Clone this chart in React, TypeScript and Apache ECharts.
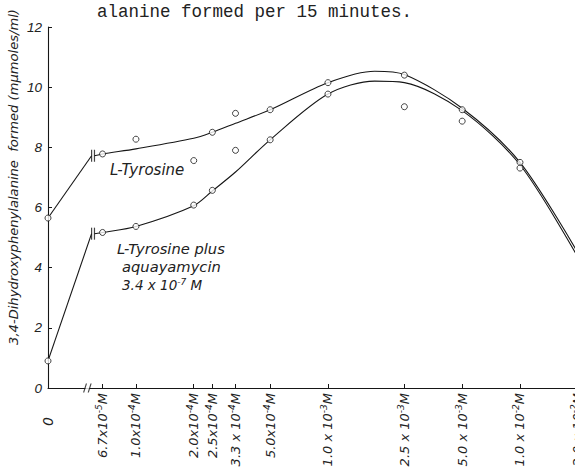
import React, { useEffect, useRef } from "react";
import * as echarts from "echarts";

// ---- data ----
// concentrations (M); 0 is drawn at the origin of the broken log axis
const concentrations = [0, 6.7e-5, 1.0e-4, 2.0e-4, 2.5e-4, 3.3e-4, 5.0e-4, 1.0e-3, 2.5e-3, 5.0e-3, 1.0e-2];
const tyrosine = [5.65, 7.78, 8.27, 7.56, 8.5, 9.13, 9.25, 10.15, 10.4, 9.25, 7.5];
const tyrosineAqua = [0.9, 5.17, 5.37, 6.08, 6.57, 7.9, 8.25, 9.77, 9.35, 8.87, 7.31];

// hand-drawn fitted curves
const fitConc = [6.7e-5, 1.0e-4, 2.0e-4, 2.5e-4, 3.3e-4, 5.0e-4, 1.0e-3, 1.75e-3, 2.5e-3, 5.0e-3, 1.0e-2, 2.0e-2];
const fitTyrosine = [7.78, 7.95, 8.3, 8.5, 8.8, 9.25, 10.15, 10.53, 10.42, 9.3, 7.5, 4.5];
const fitTyrosineAqua = [5.17, 5.37, 6.06, 6.55, 7.18, 8.25, 9.77, 10.2, 10.15, 9.22, 7.42, 4.35];

// values at the "||" break marks on each curve
const breakTyrosine = 7.72;
const breakTyrosineAqua = 5.13;

// x tick labels
const tickConc = [6.7e-5, 1.0e-4, 2.0e-4, 2.5e-4, 3.3e-4, 5.0e-4, 1.0e-3, 2.5e-3, 5.0e-3, 1.0e-2, 2.0e-2];
const tickMantissa = ["6.7x10", "1.0x10", "2.0x10", "2.5x10", "3.3 x 10", "5.0x10", "1.0 x 10", "2.5 x 10", "5.0 x 10", "1.0 x 10", "2.0 x 10"];
const tickExponent = ["-5", "-4", "-4", "-4", "-4", "-4", "-3", "-3", "-3", "-2", "-2"];
const yTicks = [0, 2, 4, 6, 8, 10, 12];

// ---- axis geometry (log10 scale with a break near the origin) ----
const X_MIN = -4.458;
const X_MAX = -1.651;
const XB1 = -4.231; // first bar of the break
const XB2 = -4.216; // second bar of the break
const AXB1 = -4.265; // axis break slashes
const AXB2 = -4.241;

const lx = (c: number) => (c === 0 ? X_MIN : Math.log10(c));

const FONT = '"Liberation Sans", Arial, sans-serif';
const LETTER = '"DejaVu Sans", sans-serif';
const INK = "#161616";

export default function App() {
  const ref = useRef<HTMLDivElement>(null);
  useEffect(() => {
    document.body.style.margin = "0";
    document.body.style.overflow = "hidden";
    if (!ref.current) return;
    const chart = echarts.init(ref.current, undefined, { renderer: "svg" });
    const tickValues = [X_MIN, ...tickConc.map(lx)];

    const pts = (vals: number[]) => concentrations.map((c, i) => [lx(c), vals[i]]);
    const fit = (start: number, vals: number[]) => [[XB2, start], ...fitConc.map((c, i) => [lx(c), vals[i]])];

    const lineStyle = { color: INK, width: 1.1 };

    const option: any = {
      animation: false,
      backgroundColor: "#ffffff",
      grid: { left: 48, right: 0, top: 27, bottom: 86 },
      xAxis: {
        type: "value",
        min: X_MIN,
        max: X_MAX,
        axisLine: { show: true, lineStyle: { color: INK, width: 1.1 } },
        splitLine: { show: false },
        axisTick: {
          show: true,
          inside: true,
          length: 4,
          customValues: tickConc.map(lx),
          lineStyle: { color: INK },
        },
        axisLabel: {
          show: true,
          rotate: 90,
          margin: 5,
          hideOverlap: false,
          customValues: tickValues,
          color: "#222",
          formatter: (v: number) => {
            if (Math.abs(v - X_MIN) < 1e-6) return "{z|0}";
            const i = tickConc.findIndex((c) => Math.abs(lx(c) - v) < 1e-6);
            if (i < 0) return "";
            return `{n|${tickMantissa[i]}}{s|${tickExponent[i]}}{n|M}`;
          },
          rich: {
            n: { fontSize: 13, fontStyle: "italic", fontFamily: LETTER, color: "#222" },
            s: { fontSize: 9, fontStyle: "italic", fontFamily: LETTER, color: "#222", verticalAlign: "top", padding: [0, 0, 7, 0] },
            z: { fontSize: 14, fontStyle: "italic", fontFamily: LETTER, color: "#222", padding: [0, 24, 0, 0] },
          },
        },
      },
      yAxis: {
        type: "value",
        min: 0,
        max: 12,
        interval: 2,
        axisLine: { show: true, lineStyle: { color: INK, width: 1.1 } },
        splitLine: { show: false },
        axisTick: { show: true, inside: true, length: 4, lineStyle: { color: INK } },
        axisLabel: {
          margin: 6,
          fontSize: 13.5,
          fontStyle: "italic",
          fontFamily: FONT,
          color: "#222",
          formatter: (v: number) => (yTicks.includes(v) ? String(v) : ""),
        },
      },
      graphic: [
        {
          type: "text",
          x: 97,
          y: 12,
          style: {
            text: "alanine formed per 15 minutes.",
            fontSize: 17.5,
            fontFamily: '"Liberation Mono", "DejaVu Sans Mono", monospace',
            fill: "#222",
            align: "left",
            verticalAlign: "middle",
          },
        },
        {
          type: "text",
          x: 13,
          y: 177,
          rotation: Math.PI / 2,
          style: {
            text: "3,4-Dihydroxyphenylalanine  formed (mμmoles/ml)",
            fontSize: 13.1,
            fontStyle: "italic",
            fontFamily: LETTER,
            fill: "#222",
            align: "center",
            verticalAlign: "middle",
          },
        },
        {
          type: "text",
          x: 110,
          y: 170,
          style: { text: "L-Tyrosine", fontSize: 15, fontStyle: "italic", fontFamily: LETTER, fill: "#222", align: "left", verticalAlign: "middle" },
        },
        {
          type: "text",
          x: 117,
          y: 248,
          style: { text: "L-Tyrosine plus", fontSize: 14.7, fontStyle: "italic", fontFamily: LETTER, fill: "#222", align: "left", verticalAlign: "middle" },
        },
        {
          type: "text",
          x: 122,
          y: 266,
          style: { text: "aquayamycin", fontSize: 14.7, fontStyle: "italic", fontFamily: LETTER, fill: "#222", align: "left", verticalAlign: "middle" },
        },
        {
          type: "text",
          x: 122,
          y: 285,
          style: {
            text: "{n|3.4 x 10}{s|-7}{n| M}",
            align: "left",
            verticalAlign: "middle",
            rich: {
              n: { fontSize: 13.5, fontStyle: "italic", fontFamily: LETTER, fill: "#222" },
              s: { fontSize: 9, fontStyle: "italic", fontFamily: LETTER, fill: "#222", verticalAlign: "top", padding: [0, 0, 7, 0] },
            },
          },
        },
      ],
      series: [
        { type: "line", name: "tyrLead", data: [[X_MIN, tyrosine[0]], [XB1, breakTyrosine]], symbol: "none", lineStyle, clip: false },
        { type: "line", name: "aquaLead", data: [[X_MIN, tyrosineAqua[0]], [XB1, breakTyrosineAqua]], symbol: "none", lineStyle, clip: false },
        { type: "line", name: "tyrFit", data: fit(breakTyrosine, fitTyrosine), symbol: "none", smooth: 0.3, lineStyle },
        { type: "line", name: "aquaFit", data: fit(breakTyrosineAqua, fitTyrosineAqua), symbol: "none", smooth: 0.3, lineStyle },
        {
          type: "scatter",
          name: "bars",
          data: [
            [XB1, breakTyrosine],
            [XB2, breakTyrosine],
            [XB1, breakTyrosineAqua],
            [XB2, breakTyrosineAqua],
          ],
          symbol: "rect",
          symbolSize: [1.2, 12],
          itemStyle: { color: INK },
          clip: false,
          z: 4,
        },
        {
          type: "scatter",
          name: "axisGap",
          data: [[(AXB1 + AXB2) / 2, 0]],
          symbol: "rect",
          symbolSize: [4, 4],
          itemStyle: { color: "#ffffff" },
          clip: false,
          z: 4,
        },
        {
          type: "scatter",
          name: "axisBreak",
          data: [[AXB1, 0], [AXB2, 0]],
          symbol: "path://M0,10 L1.2,10 L4,0 L2.8,0 Z",
          symbolSize: [4, 9],
          itemStyle: { color: INK },
          clip: false,
          z: 5,
        },
        {
          type: "scatter",
          name: "L-Tyrosine",
          data: pts(tyrosine),
          symbol: "circle",
          symbolSize: 6,
          itemStyle: { color: "#ffffff", borderColor: INK, borderWidth: 1 },
          clip: false,
          z: 6,
        },
        {
          type: "scatter",
          name: "L-Tyrosine plus aquayamycin",
          data: pts(tyrosineAqua),
          symbol: "circle",
          symbolSize: 6,
          itemStyle: { color: "#ffffff", borderColor: INK, borderWidth: 1 },
          clip: false,
          z: 6,
        },
      ],
    };
    chart.setOption(option);
    return () => chart.dispose();
  }, []);
  return <div ref={ref} style={{ width: 587, height: 474 }} />;
}
